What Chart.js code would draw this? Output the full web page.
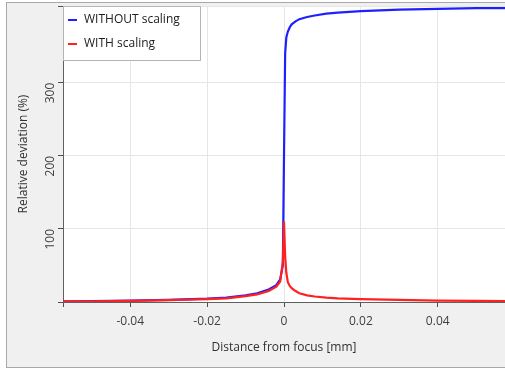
<!DOCTYPE html>
<html>
<head>
<meta charset="utf-8">
<script src="https://cdn.jsdelivr.net/npm/chart.js@4"></script>
<style>
  html,body{margin:0;padding:0;background:#fff;overflow:hidden;}
  #frame{position:absolute;left:6px;top:2px;width:505px;height:364px;
    border:1px solid #a8a8a8;background:#f0f0f0;}
  #wrap{position:absolute;left:0;top:0;width:498px;height:363px;}
</style>
</head>
<body>
<div id="frame"><div id="wrap"><canvas id="c"></canvas></div></div>
<script>
'use strict';

/* ── data ── */
const distX=[-0.0575,-0.05,-0.04,-0.03,-0.02,-0.015,-0.01,-0.007,-0.004,-0.002,-0.001,-0.0003,0,0.0003,0.0006,0.001,0.0015,0.002,0.003,0.004,0.006,0.008,0.011,0.014,0.02,0.03,0.04,0.05,0.0575];
const withoutScaling=[1,1.3,2,3,4.5,6,9,12,17,23,31,50,200,340,362,370,376,380,384,387,390,392,394.5,396,398,400,401,402,402];
const withScaling=[0.8,1,1.5,2.5,3.8,5,8,10.5,15,21,28,55,110,62,40,27,22,19,15,12,9,7.5,6,5,4,3,2,1.5,1.2];
const xTicks=[-0.0575,-0.04,-0.02,0,0.02,0.04];
const yTicks=[0,100,200,300,405];
const xMin=-0.0575,xMax=0.0575,yMin=0,yMax=405;

const FONT='"Open Sans", "Noto Sans", sans-serif';
const pts=ys=>distX.map((x,i)=>({x,y:ys[i]}));

/* white plot area */
const plotBg={
  id:'plotBg',
  beforeDraw(chart){
    const {ctx,chartArea:a}=chart;
    ctx.save();ctx.fillStyle='#fff';
    ctx.fillRect(a.left,a.top,a.right-a.left,a.bottom-a.top);
    ctx.restore();
  }
};

/* legend box drawn inside the plot, top-left */
const boxLegend={
  id:'boxLegend',
  afterDraw(chart){
    const {ctx,chartArea:a}=chart;
    const items=[chart.data.datasets[1],chart.data.datasets[0]];
    ctx.save();
    ctx.fillStyle='#fff';ctx.strokeStyle='#b4b4b4';ctx.lineWidth=1;
    ctx.fillRect(a.left,a.top,137,54);
    ctx.strokeRect(a.left+0.5,a.top+0.5,137,54);
    ctx.font='12px '+FONT;ctx.textBaseline='middle';
    items.forEach((d,i)=>{
      const y=a.top+14+i*24;
      ctx.strokeStyle=d.borderColor;ctx.lineWidth=2;
      ctx.beginPath();ctx.moveTo(a.left+5,y);ctx.lineTo(a.left+14,y);ctx.stroke();
      ctx.fillStyle='#202020';
      ctx.fillText(d.label,a.left+21,y);
    });
    ctx.restore();
  }
};

// drop the extra room Chart.js keeps for rotated / edge labels
const noPad=s=>{s.paddingTop=0;s.paddingBottom=0;s.paddingLeft=0;s.paddingRight=0;};

new Chart(document.getElementById('c'),{
  type:'line',
  data:{
    datasets:[
      {label:'WITH scaling',data:pts(withScaling),borderColor:'#ff2020',
       borderWidth:2.2,pointRadius:0,tension:0,order:0},
      {label:'WITHOUT scaling',data:pts(withoutScaling),borderColor:'#2020ff',
       borderWidth:2.2,pointRadius:0,tension:0,order:1}
    ]
  },
  options:{
    responsive:true,maintainAspectRatio:false,animation:false,
    layout:{padding:{top:3,right:0,left:0,bottom:0}},
    plugins:{legend:{display:false},tooltip:{enabled:false}},
    scales:{
      x:{
        type:'linear',min:xMin,max:xMax,
        afterBuildTicks:s=>{s.ticks=xTicks.map(v=>({value:v}));},
        afterFit:s=>{s.height=64;noPad(s);},
        ticks:{color:'#404040',font:{family:FONT,size:12},padding:7,maxRotation:0,
          callback:v=>v===xMin?'':(v===0?'0':String(v))},
        grid:{color:'#e6e6e6',tickColor:'#505050',tickLength:5},
        border:{color:'#606060',width:1},
        title:{display:true,text:'Distance from focus [mm]',color:'#303030',
          font:{family:FONT,size:12},padding:{top:0,bottom:11}}
      },
      y:{
        min:yMin,max:yMax,
        afterBuildTicks:s=>{s.ticks=yTicks.map(v=>({value:v}));},
        afterFit:s=>{s.width=56;noPad(s);},
        ticks:{color:'#404040',font:{family:FONT,size:12},padding:7,minRotation:90,maxRotation:90,
          callback:v=>(v===0||v===yMax)?'':String(v)},
        grid:{color:'#e6e6e6',tickColor:'#505050',tickLength:5},
        border:{color:'#606060',width:1},
        title:{display:true,text:'Relative deviation (%)',color:'#303030',
          font:{family:FONT,size:12},padding:{top:9,bottom:0}}
      }
    }
  },
  plugins:[plotBg,boxLegend]
});
</script>
</body>
</html>
